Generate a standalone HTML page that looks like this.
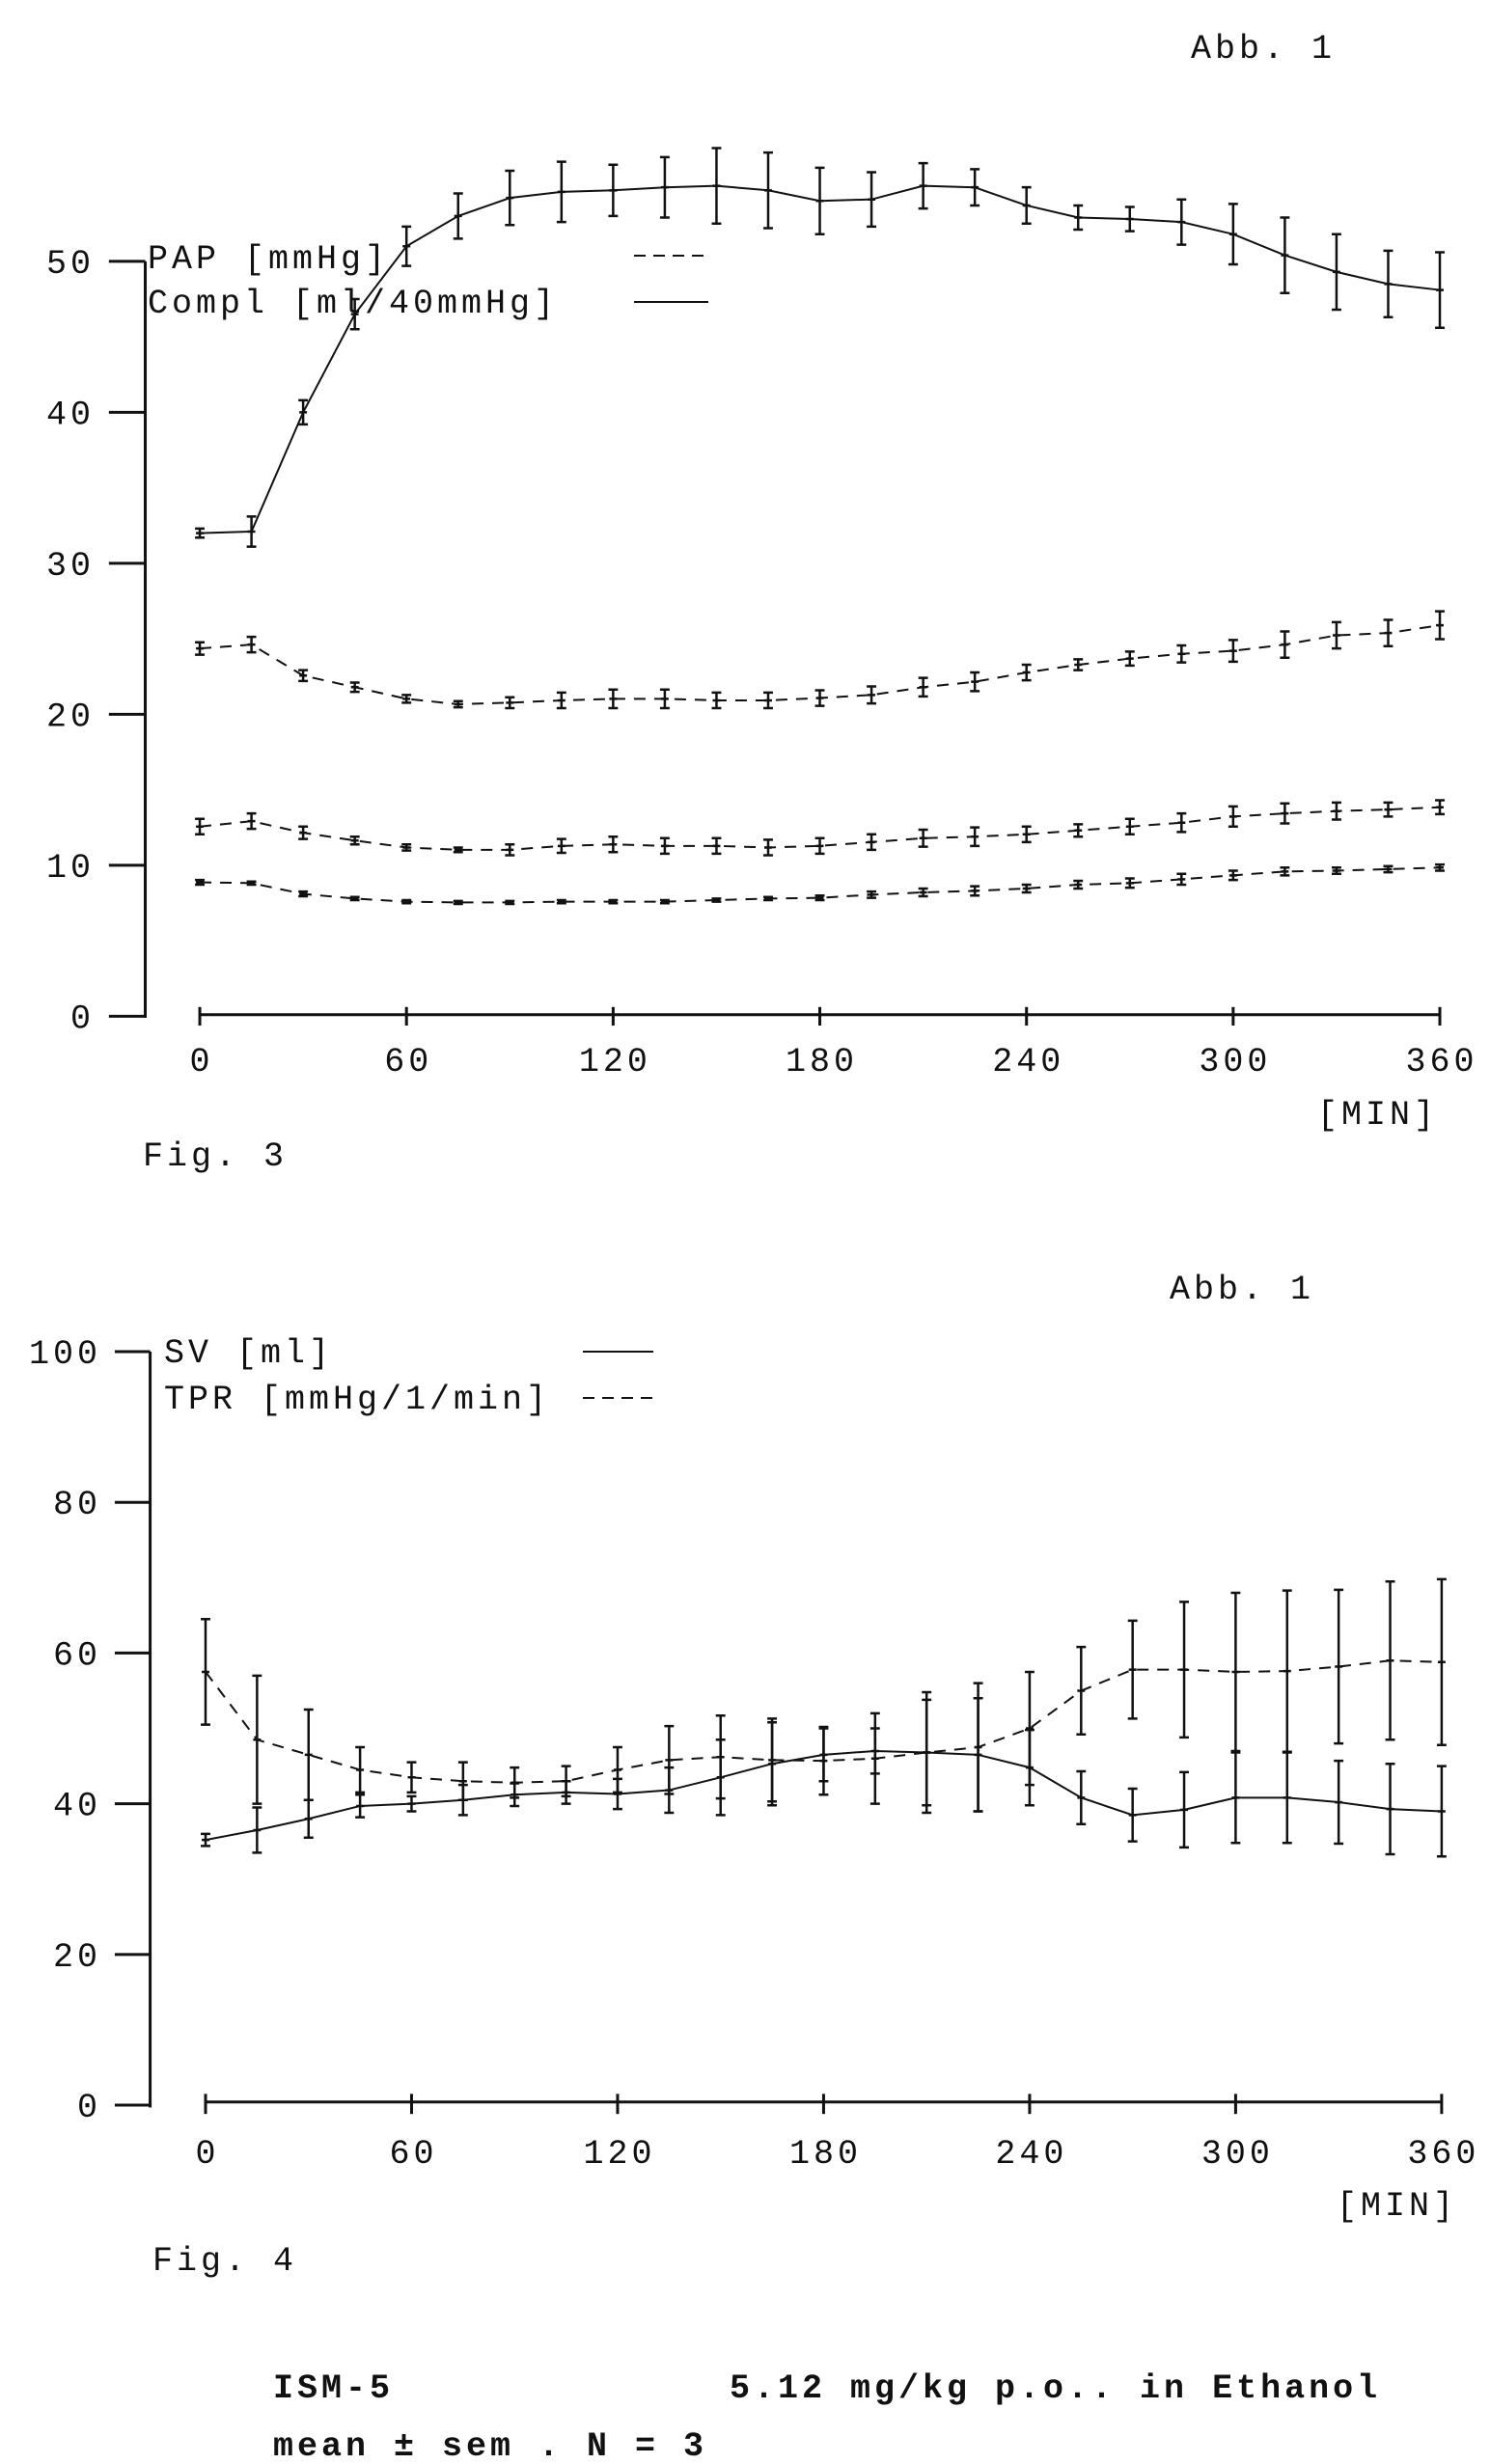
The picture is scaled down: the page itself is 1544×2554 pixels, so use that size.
<!DOCTYPE html>
<html><head><meta charset="utf-8"><style>
html,body{margin:0;padding:0;background:#fff}
svg{display:block}
text{font-family:"Liberation Mono",monospace;fill:#111;letter-spacing:4px}
path,line{vector-effect:non-scaling-stroke}
</style></head><body>
<svg width="1544" height="2554" viewBox="0 0 1544 2554" xmlns="http://www.w3.org/2000/svg">
<g id="top" transform="matrix(0.9915 0 0 0.8026 1.8 2)"></g>
<g id="bot" transform="matrix(0.99 0 0 0.8335 2.13 225.8)"></g>
<g stroke="#111" stroke-width="2" fill="none">
<line x1="657" y1="265" x2="734" y2="265" stroke-dasharray="12,8"/>
<line x1="657" y1="313" x2="734" y2="313"/>
<line x1="604" y1="1401" x2="677" y2="1401"/>
<line x1="604" y1="1449" x2="677" y2="1449" stroke-dasharray="12,8"/>
</g>
<g id="lab" font-size="35"></g>
<g font-size="35">
<text x="1234" y="60">Abb. 1</text>
<text x="153" y="278">PAP [mmHg]</text>
<text x="153" y="324">Compl [ml/40mmHg]</text>
<text x="1365" y="1165">[MIN]</text>
<text x="148" y="1208">Fig. 3</text>
<text x="1212" y="1346">Abb. 1</text>
<text x="170" y="1412">SV [ml]</text>
<text x="170" y="1460">TPR [mmHg/1/min]</text>
<text x="1385" y="2296">[MIN]</text>
<text x="158" y="2353">Fig. 4</text>
<text x="283" y="2485" font-weight="bold">ISM-5</text>
<text x="756" y="2485" font-weight="bold">5.12 mg/kg p.o..  in Ethanol</text>
<text x="283" y="2545" font-weight="bold">mean ± sem . N = 3</text>
</g>
</svg>
<script>
var NS='http://www.w3.org/2000/svg',g;
function el(t,a,txt){var e=document.createElementNS(NS,t);for(var k in a)e.setAttribute(k,a[k]);if(txt!=null)e.textContent=txt;g.appendChild(e);return e;}
function series(xs,ys,errs,dash){
 var d='';for(var i=0;i<xs.length;i++)d+=(i?'L':'M')+xs[i].toFixed(1)+' '+ys[i].toFixed(1);
 var a={d:d,stroke:'#111','stroke-width':2,fill:'none'};if(dash)a['stroke-dasharray']='12,9';el('path',a);
 for(var i=0;i<xs.length;i++){var e=errs[i],x=xs[i],y=ys[i];
  el('path',{d:'M'+x+' '+(y-e)+'V'+(y+e)+'M'+(x-5)+' '+(y-e)+'h10M'+(x-5)+' '+(y+e)+'h10M'+(x-4)+' '+y+'h8',stroke:'#111','stroke-width':2.5,fill:'none'});}
}
g=document.getElementById('top');
el('path',{d:'M150 335V1312M207 1308H1503',stroke:'#111','stroke-width':3,fill:'none'});
[0,10,20,30,40,50].forEach(function(v){var y=1310-19.5*v;el('line',{x1:112,y1:y,x2:150,y2:y,stroke:'#111','stroke-width':3});});
[0,60,120,180,240,300,360].forEach(function(v){var x=207+3.6*v;el('line',{x1:x,y1:1298,x2:x,y2:1322,stroke:'#111','stroke-width':3});});
var X1=[],X2=[];for(var i=0;i<25;i++){X1.push(207+54*i);X2.push(213+53.91*i);}
var compl=[32,32.1,40,46.5,51,53,54.2,54.6,54.7,54.9,55,54.7,54,54.1,55,54.9,53.7,52.9,52.8,52.6,51.8,50.4,49.3,48.5,48.1];
var ce=[0.3,1,0.8,1,1.3,1.5,1.8,2,1.7,2,2.5,2.5,2.2,1.8,1.5,1.2,1.2,0.8,0.8,1.5,2,2.5,2.5,2.2,2.5];
series(X1,compl.map(function(v){return 1310-19.5*v}),ce.map(function(v){return v*19.5}),false);
var pap=[835,830,870,885,900,907,905,902,900,900,902,902,899,895,885,878,866,856,848,842,838,830,818,815,805];
var pe=[8,10,7,6,5,4,7,10,12,12,10,10,10,11,12,12,10,7,9,11,14,17,17,17,18];
series(X1,pap,pe,true);
var mid=[1065,1058,1073,1083,1092,1095,1095,1090,1088,1090,1090,1092,1090,1085,1080,1078,1075,1070,1065,1060,1052,1048,1045,1043,1040];
var me=[10,10,8,5,4,3,7,9,10,10,10,10,10,10,11,12,10,8,10,12,13,13,11,9,9];
series(X1,mid,me,true);
var low=[1137,1138,1152,1158,1162,1163,1163,1162,1162,1162,1160,1158,1157,1153,1150,1148,1145,1140,1138,1133,1128,1123,1122,1120,1118];
var le=[3,2,3,2,2,2,2,2,2,2,2,2,3,4,5,6,5,5,6,7,6,5,4,4,4];
series(X1,low,le,true);
g=document.getElementById('bot');
el('path',{d:'M155 1410V2350M213 2343H1507',stroke:'#111','stroke-width':3,fill:'none'});
[0,20,40,60,80,100].forEach(function(v){var y=2347-9.37*v;el('line',{x1:118,y1:y,x2:155,y2:y,stroke:'#111','stroke-width':3});});
[0,60,120,180,240,300,360].forEach(function(v){var x=213+3.594*v;el('line',{x1:x,y1:2333,x2:x,y2:2358,stroke:'#111','stroke-width':3});});
var tpr=[57.5,48.5,46.5,44.5,43.5,43,42.8,43,44.5,45.8,46.2,45.8,45.7,46,46.8,47.5,50,55,57.8,57.8,57.5,57.6,58.2,59,58.8];
var te=[7,8.5,6,3,2,2.5,2,2,3,4.5,5.5,5.5,4.5,6,7,8.5,7.5,5.8,6.5,9,10.5,10.7,10.2,10.5,11];
series(X2,tpr.map(function(v){return 2347-9.37*v}),te.map(function(v){return v*9.37}),true);
var sv=[35.2,36.5,38,39.7,40,40.5,41.2,41.5,41.3,41.8,43.5,45.3,46.5,47,46.8,46.5,44.8,40.8,38.5,39.2,40.8,40.8,40.2,39.3,39];
var se=[0.8,3,2.5,1.5,1,2,1.5,1.5,2,3,5,5.5,3.5,3,8,7.5,5,3.5,3.5,5,6,6,5.5,6,6];
series(X2,sv.map(function(v){return 2347-9.37*v}),se.map(function(v){return v*9.37}),false);
g=document.getElementById('lab');
[0,10,20,30,40,50].forEach(function(v){var y=(1310-19.5*v)*0.8026+2;el('text',{x:98,y:y+12,'text-anchor':'end'},v);});
[0,60,120,180,240,300,360].forEach(function(v){var x=(207+3.6*v)*0.9915+1.8;el('text',{x:x+2,y:1110,'text-anchor':'middle'},v);});
[0,20,40,60,80,100].forEach(function(v){var y=(2347-9.37*v)*0.8335+225.8;el('text',{x:105,y:y+12,'text-anchor':'end'},v);});
[0,60,120,180,240,300,360].forEach(function(v){var x=(213+3.594*v)*0.99+2.13;el('text',{x:x+2,y:2242,'text-anchor':'middle'},v);});
</script>
</body></html>
